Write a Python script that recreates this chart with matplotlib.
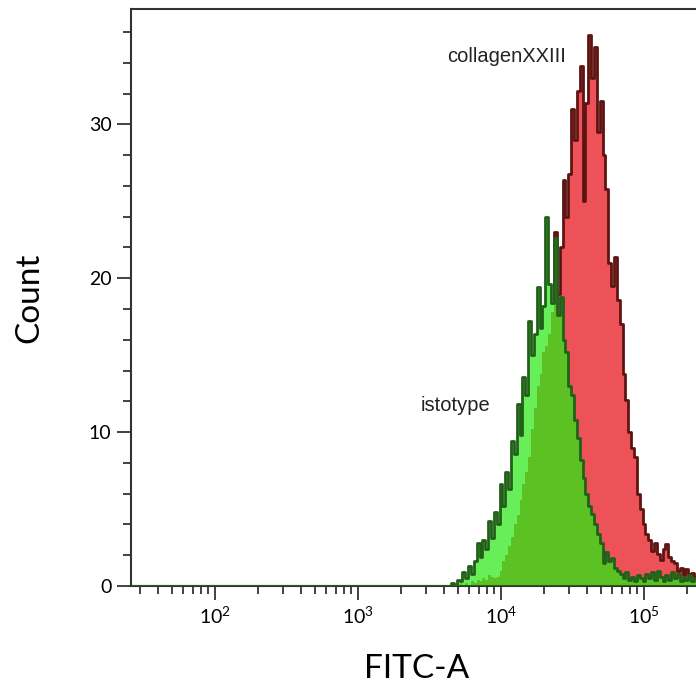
"""FITC-A histogram: collagenXXIII vs isotype"""
import matplotlib
matplotlib.use("Agg")
import matplotlib.pyplot as plt
import numpy as np
from matplotlib.ticker import MultipleLocator, LogLocator

matplotlib.rcParams["font.family"] = ["Lato", "DejaVu Sans"]
matplotlib.rcParams["mathtext.default"] = "regular"

# --- data (log10 of FITC-A bin centre, counts per bin) ---
log_fitc = [
    3.60, 3.62, 3.64, 3.66, 3.68, 3.70, 3.72, 3.74, 3.76, 3.78,
    3.80, 3.82, 3.84, 3.86, 3.88, 3.90, 3.92, 3.94, 3.96, 3.98,
    4.00, 4.02, 4.04, 4.06, 4.08, 4.10, 4.12, 4.14, 4.16, 4.18,
    4.20, 4.22, 4.24, 4.26, 4.28, 4.30, 4.32, 4.34, 4.36, 4.38,
    4.40, 4.42, 4.44, 4.46, 4.48, 4.50, 4.52, 4.54, 4.56, 4.58,
    4.60, 4.62, 4.64, 4.66, 4.68, 4.70, 4.72, 4.74, 4.76, 4.78,
    4.80, 4.82, 4.84, 4.86, 4.88, 4.90, 4.92, 4.94, 4.96, 4.98,
    5.00, 5.02, 5.04, 5.06, 5.08, 5.10, 5.12, 5.14, 5.16, 5.18,
    5.20, 5.22, 5.24, 5.26, 5.28, 5.30, 5.32, 5.34, 5.36, 5.38,
    5.40, 5.42,
]
isotype = [
    0.0, 0.0, 0.0, 0.2, 0.0, 0.4, 0.3, 0.9, 0.5, 1.3,
    0.8, 1.6, 2.8, 1.9, 3.0, 2.4, 4.2, 3.1, 4.8, 4.0,
    6.6, 5.2, 7.4, 6.3, 9.4, 8.6, 11.8, 9.8, 13.6, 12.4,
    17.2, 15.0, 16.4, 19.4, 16.8, 18.2, 24.0, 19.6, 18.4, 22.6,
    17.6, 18.8, 16.0, 15.2, 13.0, 12.4, 10.8, 9.6, 8.2, 7.0,
    6.0, 5.2, 4.7, 4.0, 3.4, 2.8, 1.5, 2.2, 1.6, 1.8,
    1.2, 1.0, 0.8, 0.5, 0.9, 0.4, 0.6, 0.3, 0.7, 0.5,
    0.3, 0.8, 0.5, 0.9, 0.4, 1.0, 0.6, 0.3, 0.7, 0.4,
    0.9, 0.5, 0.8, 0.3, 0.6, 0.4, 0.7, 0.3, 0.5, 0.2,
    0.3, 0.0,
]
collagen = [
    0.0, 0.0, 0.0, 0.0, 0.0, 0.0, 0.3, 0.0, 0.2, 0.0,
    0.3, 0.2, 0.4, 0.3, 0.5, 0.4, 0.7, 0.6, 0.5, 0.6,
    1.0, 1.6, 2.0, 2.6, 3.2, 4.0, 4.6, 5.6, 6.6, 7.4,
    8.4, 10.2, 11.6, 13.0, 13.8, 15.2, 15.6, 16.4, 17.8, 23.0,
    19.0, 22.0, 26.4, 24.0, 26.8, 31.0, 29.0, 32.2, 33.8, 25.0,
    31.4, 35.8, 33.0, 35.0, 29.5, 31.5, 28.0, 25.8, 21.0, 19.5,
    21.4, 18.6, 17.0, 13.8, 12.1, 10.0, 9.0, 8.4, 6.0, 5.0,
    4.0, 3.4, 3.0, 2.3, 2.8, 2.1, 1.7, 2.4, 2.7, 1.9,
    1.6, 1.5, 1.0, 1.2, 0.7, 1.1, 0.8, 0.85, 0.6, 0.9,
    0.5, 0.4,
]

x = 10 ** np.array(log_fitc)
iso = np.array(isotype)
col = np.array(collagen)

RED_FILL, RED_LINE = "#EC5258", "#5E1512"
GREEN_LIGHT, GREEN_MID, GREEN_LINE = "#68EE58", "#5CC224", "#22601A"

fig = plt.figure(figsize=(6.96, 6.86), dpi=100)
ax = fig.add_axes([131 / 696, 1 - 586 / 686, 572 / 696, 577 / 686])

# collagen (red) underneath, isotype (green) on top
ax.fill_between(x, 0, col, step="mid", color=RED_FILL, lw=0, zorder=1)
ax.plot(x, col, drawstyle="steps-mid", color=RED_LINE, lw=2, zorder=2)
ax.fill_between(x, 0, iso, step="mid", color=GREEN_LIGHT, lw=0, zorder=3)
ax.fill_between(x, 0, np.minimum(iso, col), step="mid", color=GREEN_MID, lw=0, zorder=4)
ax.plot(x, iso, drawstyle="steps-mid", color=GREEN_LINE, lw=2, zorder=5)
ax.axhline(0, color=GREEN_LINE, lw=1.5, zorder=6)

ax.text(4190, 34.4, "collagenXXIII", fontsize=14.5, family=["Liberation Sans"],
        color="#222222", va="center")
ax.text(2720, 11.7, "istotype", fontsize=14.5, family=["Liberation Sans"],
        color="#222222", va="center")

ax.set_xscale("log")
ax.set_xlim(10 ** 1.4126, 10 ** 5.4126)
ax.set_ylim(0, 37.5)
ax.xaxis.set_major_locator(LogLocator(base=10, numticks=10))
ax.xaxis.set_minor_locator(LogLocator(base=10, subs=np.arange(2, 10), numticks=20))
ax.yaxis.set_major_locator(MultipleLocator(10))
ax.yaxis.set_minor_locator(MultipleLocator(2))

ax.tick_params(which="major", length=10, width=1.3, labelsize=14, pad=4, color="#333333")
ax.tick_params(which="minor", length=6, width=1.3, color="#333333")
for s in ["left", "bottom", "top", "right"]:
    ax.spines[s].set_linewidth(1.5)
    ax.spines[s].set_color("#333333")

ax.set_xlabel("FITC-A", fontsize=24, labelpad=20)
ax.set_ylabel("Count", fontsize=24, labelpad=32)

plt.savefig("out.png", dpi=100)
